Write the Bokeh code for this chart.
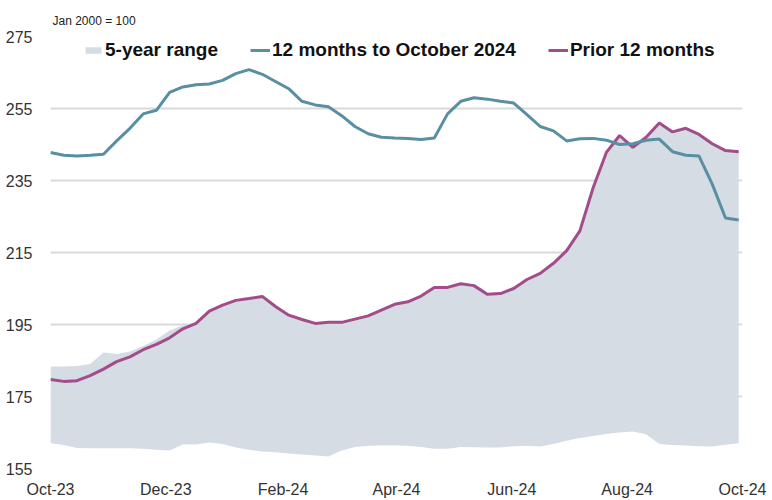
import pandas as pd
from datetime import datetime
from bokeh.plotting import figure
from bokeh.models import (ColumnDataSource, Range1d, FixedTicker, DatetimeTickFormatter,
                          Legend, LegendItem)
from bokeh.embed import file_html
from bokeh.resources import INLINE

# ---- data (weekly, Jan 2000 = 100) ----
dates = pd.date_range("2023-10-01", periods=53, freq="7D")

current_12m = [242.8, 242.0, 241.8, 242.0, 242.3, 246.0, 249.5, 253.5, 254.5, 259.5,
               261.0, 261.6, 261.8, 262.8, 264.7, 265.8, 264.5, 262.5, 260.5, 257.0,
               256.0, 255.5, 253.0, 250.0, 248.0, 247.0, 246.8, 246.7, 246.4, 246.8,
               253.5, 257.0, 258.0, 257.6, 257.0, 256.5, 253.3, 250.0, 248.8, 246.0,
               246.6, 246.7, 246.2, 245.0, 245.2, 246.2, 246.5, 243.0, 242.0, 241.8,
               234.0, 224.6, 224.0]

prior_12m = [179.7, 179.2, 179.4, 180.8, 182.6, 184.7, 186.0, 188.0, 189.5, 191.3,
             193.8, 195.3, 198.7, 200.4, 201.7, 202.2, 202.8, 200.0, 197.6, 196.4,
             195.3, 195.6, 195.6, 196.5, 197.4, 199.0, 200.6, 201.3, 202.9, 205.3,
             205.3, 206.3, 205.8, 203.4, 203.6, 205.0, 207.5, 209.2, 212.0, 215.5,
             221.0, 233.0, 242.8, 247.5, 244.2, 247.0, 251.0, 248.5, 249.5, 247.8,
             245.2, 243.3, 243.0]

range_high = [183.3, 183.3, 183.5, 184.0, 187.2, 186.8, 187.5, 189.0, 190.8, 193.3,
              194.8, 195.3, 198.7, 200.4, 201.7, 202.2, 202.8, 200.0, 197.6, 196.4,
              195.3, 195.6, 195.6, 196.5, 197.4, 199.0, 200.6, 201.3, 202.9, 205.3,
              205.3, 206.3, 205.8, 203.4, 203.6, 205.0, 207.5, 209.2, 212.0, 215.5,
              221.0, 233.0, 242.8, 247.5, 245.2, 247.0, 251.0, 248.5, 249.5, 247.8,
              245.2, 243.3, 243.0]

range_low = [162.0, 161.5, 160.7, 160.6, 160.6, 160.6, 160.6, 160.5, 160.2, 160.0,
             161.7, 161.7, 162.2, 161.8, 160.8, 160.2, 159.7, 159.5, 159.2, 158.9,
             158.6, 158.3, 160.0, 161.0, 161.3, 161.4, 161.4, 161.3, 161.0, 160.5,
             160.5, 161.0, 160.9, 160.8, 160.8, 161.2, 161.3, 161.1, 161.8, 162.7,
             163.5, 164.0, 164.6, 165.0, 165.3, 164.5, 161.8, 161.5, 161.4, 161.2,
             161.1, 161.6, 162.0]

tick_months = ["2023-10-01", "2023-12-01", "2024-02-01", "2024-04-01",
               "2024-06-01", "2024-08-01", "2024-10-01"]
y_ticks = [155, 175, 195, 215, 235, 255, 275]

TEAL = "#588fa3"
MAGENTA = "#a24c8b"
BAND = "#d6dce4"

src = ColumnDataSource(dict(date=dates, cur=current_12m, prior=prior_12m,
                            hi=range_high, lo=range_low))

p = figure(width=772, height=500, output_backend="svg", toolbar_location=None,
           x_axis_type="datetime",
           x_range=Range1d(datetime(2023, 10, 1), datetime(2024, 10, 1)),
           y_range=Range1d(155, 275),
           min_border_left=50, min_border_right=30, min_border_top=36, min_border_bottom=32)

p.title.text = "Jan 2000 = 100"
p.title.text_font = "Liberation Sans"
p.title.text_font_size = "12px"
p.title.text_font_style = "normal"
p.title.text_color = "#222222"
p.title.align = "left"
p.title.offset = 2
p.title.standoff = 18

r_band = p.varea(x="date", y1="lo", y2="hi", source=src, fill_color=BAND)
r_prior = p.line(x="date", y="prior", source=src, line_color=MAGENTA, line_width=3)
r_cur = p.line(x="date", y="cur", source=src, line_color=TEAL, line_width=3)

# axes
p.xaxis.ticker = FixedTicker(ticks=[pd.Timestamp(t).value // 10**6 for t in tick_months])
p.xaxis.formatter = DatetimeTickFormatter(days="%b-%y", months="%b-%y", years="%b-%y")
p.yaxis.ticker = FixedTicker(ticks=y_ticks)
for ax in (p.xaxis[0], p.yaxis[0]):
    ax.axis_line_color = None
    ax.major_tick_line_color = None
    ax.minor_tick_line_color = None
    ax.major_label_text_font = "Liberation Sans"
    ax.major_label_text_font_size = "16px"
    ax.major_label_text_color = "#333333"
p.xaxis.major_label_standoff = 6
p.yaxis.major_label_standoff = 12

p.xgrid.grid_line_color = None
p.ygrid.grid_line_color = "#d9d9d9"
p.ygrid.grid_line_width = 2
p.outline_line_color = None

legend = Legend(items=[LegendItem(label="5-year range", renderers=[r_band]),
                       LegendItem(label="12 months to October 2024", renderers=[r_cur]),
                       LegendItem(label="Prior 12 months", renderers=[r_prior])],
                orientation="horizontal", location=(33, 407))
legend.label_text_font = "Liberation Sans"
legend.label_text_font_size = "19px"
legend.label_text_font_style = "bold"
legend.label_text_color = "#111111"
legend.background_fill_alpha = 0
legend.border_line_color = None
legend.padding = 0
legend.margin = 0
legend.spacing = 32
legend.label_standoff = 2
legend.glyph_width = 20
legend.glyph_height = 8
legend.label_height = 22
p.add_layout(legend)

open("out.html", "w").write(file_html(p, INLINE))
